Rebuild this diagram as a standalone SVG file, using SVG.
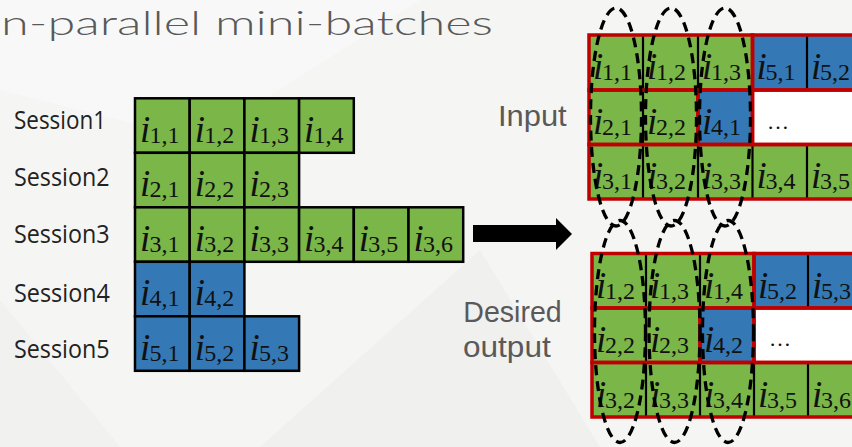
<svg xmlns="http://www.w3.org/2000/svg" width="852" height="447" viewBox="0 0 852 447">
<style>
.g{fill:#7ab648}
.b{fill:#3479b5}
.w{fill:#ffffff}
.lc{stroke:#000;stroke-width:2.5}
.dv{stroke:#000;stroke-width:2.2}
.red{fill:none;stroke:#c00000;stroke-width:3.5}
.mi{font-family:"Liberation Serif",serif;font-style:italic;font-size:37px;fill:#111}
.sb{font-family:"Liberation Serif",serif;font-size:24px;fill:#111}
.lbl{font-family:"Open Sans","Noto Sans",sans-serif;font-size:25px;fill:#222}
.big{font-family:"Liberation Sans",Arial,sans-serif;font-size:29px;fill:#595959}
.ttl{font-family:Lato,"Open Sans",sans-serif;font-weight:300;font-size:33px;fill:#595959}
.dots{font-family:"Liberation Serif",serif;font-size:22px;fill:#111}
.ell{fill:none;stroke:#000;stroke-width:3.3;stroke-dasharray:10 6}
</style>
<rect x="0" y="0" width="852" height="447" fill="#f5f5f4"/>
<polygon points="0,0 420,0 200,140 0,90" fill="#f8f8f8"/>
<polygon points="260,447 480,250 600,447" fill="#f0f0ef"/>
<polygon points="0,300 120,447 0,447" fill="#f1f1f0"/>
<text class="ttl" x="1" y="35" textLength="492" lengthAdjust="spacingAndGlyphs">n-parallel mini-batches</text>

<g id="session1">
<text class="lbl" x="14" y="129" textLength="92" lengthAdjust="spacingAndGlyphs">Session1</text>
<rect class="g lc" x="135" y="98.3" width="54.7" height="54.5"/>
<rect class="g lc" x="189.7" y="98.3" width="54.7" height="54.5"/>
<rect class="g lc" x="244.4" y="98.3" width="54.7" height="54.5"/>
<rect class="g lc" x="299.1" y="98.3" width="54.7" height="54.5"/>
<text y="141.8"><tspan class="mi" x="140">i</tspan><tspan class="sb" x="149.5" dy="1">1,1</tspan></text>
<text y="141.8"><tspan class="mi" x="194.7">i</tspan><tspan class="sb" x="204.2" dy="1">1,2</tspan></text>
<text y="141.8"><tspan class="mi" x="249.4">i</tspan><tspan class="sb" x="258.9" dy="1">1,3</tspan></text>
<text y="141.8"><tspan class="mi" x="304.1">i</tspan><tspan class="sb" x="313.6" dy="1">1,4</tspan></text>
</g>
<g id="session2">
<text class="lbl" x="14" y="186" textLength="95.5" lengthAdjust="spacingAndGlyphs">Session2</text>
<rect class="g lc" x="135" y="152.8" width="54.7" height="54.5"/>
<rect class="g lc" x="189.7" y="152.8" width="54.7" height="54.5"/>
<rect class="g lc" x="244.4" y="152.8" width="54.7" height="54.5"/>
<text y="196.3"><tspan class="mi" x="140">i</tspan><tspan class="sb" x="149.5" dy="1">2,1</tspan></text>
<text y="196.3"><tspan class="mi" x="194.7">i</tspan><tspan class="sb" x="204.2" dy="1">2,2</tspan></text>
<text y="196.3"><tspan class="mi" x="249.4">i</tspan><tspan class="sb" x="258.9" dy="1">2,3</tspan></text>
</g>
<g id="session3">
<text class="lbl" x="14" y="243.3" textLength="95.5" lengthAdjust="spacingAndGlyphs">Session3</text>
<rect class="g lc" x="135" y="207.3" width="54.7" height="54.5"/>
<rect class="g lc" x="189.7" y="207.3" width="54.7" height="54.5"/>
<rect class="g lc" x="244.4" y="207.3" width="54.7" height="54.5"/>
<rect class="g lc" x="299.1" y="207.3" width="54.7" height="54.5"/>
<rect class="g lc" x="353.8" y="207.3" width="54.7" height="54.5"/>
<rect class="g lc" x="408.5" y="207.3" width="54.7" height="54.5"/>
<text y="250.8"><tspan class="mi" x="140">i</tspan><tspan class="sb" x="149.5" dy="1">3,1</tspan></text>
<text y="250.8"><tspan class="mi" x="194.7">i</tspan><tspan class="sb" x="204.2" dy="1">3,2</tspan></text>
<text y="250.8"><tspan class="mi" x="249.4">i</tspan><tspan class="sb" x="258.9" dy="1">3,3</tspan></text>
<text y="250.8"><tspan class="mi" x="304.1">i</tspan><tspan class="sb" x="313.6" dy="1">3,4</tspan></text>
<text y="250.8"><tspan class="mi" x="358.8">i</tspan><tspan class="sb" x="368.3" dy="1">3,5</tspan></text>
<text y="250.8"><tspan class="mi" x="413.5">i</tspan><tspan class="sb" x="423" dy="1">3,6</tspan></text>
</g>
<g id="session4">
<text class="lbl" x="14" y="301.6" textLength="96" lengthAdjust="spacingAndGlyphs">Session4</text>
<rect class="b lc" x="135" y="261.8" width="54.7" height="54.5"/>
<rect class="b lc" x="189.7" y="261.8" width="54.7" height="54.5"/>
<text y="305.3"><tspan class="mi" x="140">i</tspan><tspan class="sb" x="149.5" dy="1">4,1</tspan></text>
<text y="305.3"><tspan class="mi" x="194.7">i</tspan><tspan class="sb" x="204.2" dy="1">4,2</tspan></text>
</g>
<g id="session5">
<text class="lbl" x="14" y="358.3" textLength="95.5" lengthAdjust="spacingAndGlyphs">Session5</text>
<rect class="b lc" x="135" y="316.3" width="54.7" height="54.5"/>
<rect class="b lc" x="189.7" y="316.3" width="54.7" height="54.5"/>
<rect class="b lc" x="244.4" y="316.3" width="54.7" height="54.5"/>
<text y="359.8"><tspan class="mi" x="140">i</tspan><tspan class="sb" x="149.5" dy="1">5,1</tspan></text>
<text y="359.8"><tspan class="mi" x="194.7">i</tspan><tspan class="sb" x="204.2" dy="1">5,2</tspan></text>
<text y="359.8"><tspan class="mi" x="249.4">i</tspan><tspan class="sb" x="258.9" dy="1">5,3</tspan></text>
</g>

<g id="input-batch">
<text class="big" x="498" y="126" textLength="68.7" lengthAdjust="spacingAndGlyphs">Input</text>
<rect class="g" x="589" y="35" width="163.5" height="55"/>
<rect class="b" x="752.5" y="35" width="120" height="55"/>
<rect class="g" x="589" y="90" width="109" height="54.5"/>
<rect class="b" x="698" y="90" width="54.5" height="54.5"/>
<rect class="w" x="752.5" y="90" width="120" height="54.5"/>
<rect class="g" x="589" y="144.5" width="290" height="54.5"/>
<line class="dv" x1="643" y1="35" x2="643" y2="90"/>
<line class="dv" x1="698" y1="35" x2="698" y2="90"/>
<line class="dv" x1="807" y1="35" x2="807" y2="90"/>
<line class="dv" x1="643" y1="90" x2="643" y2="144.5"/>
<line class="dv" x1="643" y1="144.5" x2="643" y2="199"/>
<line class="dv" x1="698" y1="144.5" x2="698" y2="199"/>
<line class="dv" x1="752.5" y1="144.5" x2="752.5" y2="199"/>
<line class="dv" x1="807" y1="144.5" x2="807" y2="199"/>
<rect class="red" x="589" y="35" width="163.5" height="55"/>
<rect class="red" x="752.5" y="35" width="120" height="55"/>
<rect class="red" x="589" y="90" width="109" height="54.5"/>
<rect class="red" x="698" y="90" width="54.5" height="54.5"/>
<rect class="red" x="752.5" y="90" width="120" height="54.5"/>
<rect class="red" x="589" y="144.5" width="290" height="54.5"/>
<text y="79"><tspan class="mi" x="593">i</tspan><tspan class="sb" x="602" dy="1">1,1</tspan></text>
<text y="79"><tspan class="mi" x="647">i</tspan><tspan class="sb" x="656" dy="1">1,2</tspan></text>
<text y="79"><tspan class="mi" x="702">i</tspan><tspan class="sb" x="711" dy="1">1,3</tspan></text>
<text y="79"><tspan class="mi" x="756.5">i</tspan><tspan class="sb" x="765.5" dy="1">5,1</tspan></text>
<text y="79"><tspan class="mi" x="811">i</tspan><tspan class="sb" x="820" dy="1">5,2</tspan></text>
<text y="133.5"><tspan class="mi" x="593">i</tspan><tspan class="sb" x="602" dy="1">2,1</tspan></text>
<text y="133.5"><tspan class="mi" x="647">i</tspan><tspan class="sb" x="656" dy="1">2,2</tspan></text>
<text y="133.5"><tspan class="mi" x="702">i</tspan><tspan class="sb" x="711" dy="1">4,1</tspan></text>
<text class="dots" x="767" y="128.5">…</text>
<text y="188"><tspan class="mi" x="593">i</tspan><tspan class="sb" x="602" dy="1">3,1</tspan></text>
<text y="188"><tspan class="mi" x="647">i</tspan><tspan class="sb" x="656" dy="1">3,2</tspan></text>
<text y="188"><tspan class="mi" x="702">i</tspan><tspan class="sb" x="711" dy="1">3,3</tspan></text>
<text y="188"><tspan class="mi" x="756.5">i</tspan><tspan class="sb" x="765.5" dy="1">3,4</tspan></text>
<text y="188"><tspan class="mi" x="811">i</tspan><tspan class="sb" x="820" dy="1">3,5</tspan></text>
</g>

<g id="desired-output-batch">
<text class="big" x="463.3" y="322" textLength="98.4" lengthAdjust="spacingAndGlyphs">Desired</text>
<text class="big" x="463" y="356.7" textLength="87.7" lengthAdjust="spacingAndGlyphs">output</text>
<rect class="g" x="592" y="253.5" width="162" height="54.5"/>
<rect class="b" x="754" y="253.5" width="120" height="54.5"/>
<rect class="g" x="592" y="308" width="108" height="54.5"/>
<rect class="b" x="700" y="308" width="54" height="54.5"/>
<rect class="w" x="754" y="308" width="120" height="54.5"/>
<rect class="g" x="592" y="362.5" width="290" height="54.5"/>
<line class="dv" x1="646" y1="253.5" x2="646" y2="308"/>
<line class="dv" x1="700" y1="253.5" x2="700" y2="308"/>
<line class="dv" x1="808" y1="253.5" x2="808" y2="308"/>
<line class="dv" x1="646" y1="308" x2="646" y2="362.5"/>
<line class="dv" x1="646" y1="362.5" x2="646" y2="417"/>
<line class="dv" x1="700" y1="362.5" x2="700" y2="417"/>
<line class="dv" x1="754" y1="362.5" x2="754" y2="417"/>
<line class="dv" x1="808" y1="362.5" x2="808" y2="417"/>
<rect class="red" x="592" y="253.5" width="162" height="54.5"/>
<rect class="red" x="754" y="253.5" width="120" height="54.5"/>
<rect class="red" x="592" y="308" width="108" height="54.5"/>
<rect class="red" x="700" y="308" width="54" height="54.5"/>
<rect class="red" x="754" y="308" width="120" height="54.5"/>
<rect class="red" x="592" y="362.5" width="290" height="54.5"/>
<text y="297.5"><tspan class="mi" x="596">i</tspan><tspan class="sb" x="605" dy="1">1,2</tspan></text>
<text y="297.5"><tspan class="mi" x="650">i</tspan><tspan class="sb" x="659" dy="1">1,3</tspan></text>
<text y="297.5"><tspan class="mi" x="704">i</tspan><tspan class="sb" x="713" dy="1">1,4</tspan></text>
<text y="297.5"><tspan class="mi" x="758">i</tspan><tspan class="sb" x="767" dy="1">5,2</tspan></text>
<text y="297.5"><tspan class="mi" x="812">i</tspan><tspan class="sb" x="821" dy="1">5,3</tspan></text>
<text y="352"><tspan class="mi" x="596">i</tspan><tspan class="sb" x="605" dy="1">2,2</tspan></text>
<text y="352"><tspan class="mi" x="650">i</tspan><tspan class="sb" x="659" dy="1">2,3</tspan></text>
<text y="352"><tspan class="mi" x="704">i</tspan><tspan class="sb" x="713" dy="1">4,2</tspan></text>
<text class="dots" x="769" y="345.5">…</text>
<text y="406.5"><tspan class="mi" x="596">i</tspan><tspan class="sb" x="605" dy="1">3,2</tspan></text>
<text y="406.5"><tspan class="mi" x="650">i</tspan><tspan class="sb" x="659" dy="1">3,3</tspan></text>
<text y="406.5"><tspan class="mi" x="704">i</tspan><tspan class="sb" x="713" dy="1">3,4</tspan></text>
<text y="406.5"><tspan class="mi" x="758">i</tspan><tspan class="sb" x="767" dy="1">3,5</tspan></text>
<text y="406.5"><tspan class="mi" x="812">i</tspan><tspan class="sb" x="821" dy="1">3,6</tspan></text>
</g>

<g id="column-groups">
<ellipse class="ell" cx="616" cy="117" rx="25.5" ry="109"/>
<ellipse class="ell" cx="671" cy="117" rx="25.5" ry="109"/>
<ellipse class="ell" cx="725" cy="117" rx="25.5" ry="109"/>
<ellipse class="ell" cx="620" cy="331.5" rx="25.5" ry="111"/>
<ellipse class="ell" cx="674.5" cy="331.5" rx="25.5" ry="111"/>
<ellipse class="ell" cx="728" cy="331.5" rx="25.5" ry="111"/>
</g>

<g id="connectors">
<polygon points="473,225 556,225 556,218 572,234 556,250 556,242 473,242" fill="#000"/>
</g>
</svg>
